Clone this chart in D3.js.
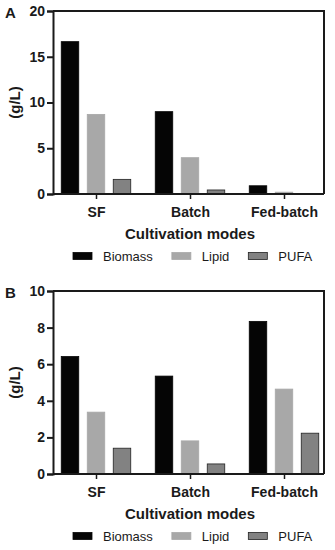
<!DOCTYPE html>
<html>
<head>
<meta charset="utf-8">
<script src="https://cdn.jsdelivr.net/npm/d3@7"></script>
<style>
  body { margin: 0; background: #fff; }
  svg { display: block; font-family: "Liberation Sans", Arial, sans-serif; }
</style>
</head>
<body>
<svg id="chart" width="335" height="550"></svg>
<script>
// data
const modes = ["SF", "Batch", "Fed-batch"];
const series = ["Biomass", "Lipid", "PUFA"];
const valuesA = {
  Biomass: [16.65, 9.0, 0.9],
  Lipid: [8.7, 3.97, 0.2],
  PUFA: [1.6, 0.44, 0.05],
};
const valuesB = {
  Biomass: [6.42, 5.35, 8.34],
  Lipid: [3.38, 1.81, 4.64],
  PUFA: [1.41, 0.55, 2.23],
};
const ticksA = [0, 5, 10, 15, 20];
const ticksB = [0, 2, 4, 6, 8, 10];

const fills = { Biomass: "#050505", Lipid: "#a8a8a8", PUFA: "#828282" };
const strokes = { Biomass: "#050505", Lipid: "#a8a8a8", PUFA: "#222" };
const ink = "#1a1a1a";

const svg = d3.select("#chart");

function drawPanel(top, bottom, letter, values, ticks) {
  const left = 53, right = 324;
  const g = svg.append("g");

  const y = d3.scaleLinear()
    .domain([0, d3.max(ticks)])
    .range([bottom, top]);

  const x = d3.scalePoint()
    .domain(modes)
    .range([96, 284]);

  const inner = d3.scaleBand()
    .domain(series)
    .range([-34.75, 34.75])
    .paddingInner(0.327);

  // bars
  const rows = [];
  series.forEach((s) => {
    modes.forEach((m, i) => rows.push({ s, m, v: values[s][i] }));
  });

  g.append("g").selectAll("rect")
    .data(rows)
    .join("rect")
    .attr("x", (d) => x(d.m) + inner(d.s))
    .attr("width", inner.bandwidth())
    .attr("y", (d) => y(d.v))
    .attr("height", (d) => bottom - y(d.v))
    .attr("fill", (d) => fills[d.s])
    .attr("stroke", (d) => strokes[d.s])
    .attr("stroke-width", 0.8);

  // frame
  g.append("path")
    .attr("d", `M${left},${top}H${right}V${bottom}`)
    .attr("fill", "none")
    .attr("stroke", ink)
    .attr("stroke-width", 2);

  // y axis
  const yAxis = g.append("g")
    .attr("transform", `translate(${left},0)`)
    .call(d3.axisLeft(y).tickValues(ticks).tickSize(6).tickPadding(2).tickFormat(d3.format("d")));
  yAxis.select(".domain").attr("stroke", ink).attr("stroke-width", 2);
  yAxis.selectAll(".tick line").attr("stroke", ink).attr("stroke-width", 2);
  yAxis.selectAll(".tick text")
    .attr("fill", ink)
    .style("font-size", "14px")
    .style("font-weight", "bold");

  // x axis
  const xAxis = g.append("g")
    .attr("transform", `translate(0,${bottom})`)
    .call(d3.axisBottom(x).tickSize(5).tickPadding(8));
  xAxis.select(".domain")
    .attr("d", `M${left},0H${right}`)
    .attr("stroke", ink).attr("stroke-width", 2);
  xAxis.selectAll(".tick line").attr("stroke", ink).attr("stroke-width", 1.5);
  xAxis.selectAll(".tick text")
    .attr("fill", ink)
    .style("font-size", "14px")
    .style("font-weight", "bold");

  // axis titles
  g.append("text")
    .attr("x", 190)
    .attr("y", bottom + 45)
    .attr("text-anchor", "middle")
    .attr("fill", ink)
    .style("font-size", "15px")
    .style("font-weight", "bold")
    .text("Cultivation modes");

  g.append("text")
    .attr("transform", `translate(15,${(top + bottom) / 2}) rotate(-90)`)
    .attr("dy", "0.35em")
    .attr("text-anchor", "middle")
    .attr("fill", ink)
    .style("font-size", "15px")
    .style("font-weight", "bold")
    .text("(g/L)");

  // panel letter
  g.append("text")
    .attr("x", 5)
    .attr("y", top + 7)
    .attr("fill", ink)
    .style("font-size", "15px")
    .style("font-weight", "bold")
    .text(letter);

  // legend
  const ly = bottom + 62;
  let lx = 73;
  series.forEach((s) => {
    g.append("rect")
      .attr("x", lx)
      .attr("y", ly - 3.5)
      .attr("width", 19)
      .attr("height", 7)
      .attr("fill", fills[s])
      .attr("stroke", strokes[s])
      .attr("stroke-width", 0.8);
    const t = g.append("text")
      .attr("x", lx + 30)
      .attr("y", ly + 4.6)
      .attr("fill", ink)
      .style("font-size", "13px")
      .text(s);
    lx += 30 + t.node().getComputedTextLength() + 19;
  });
}

drawPanel(11, 194, "A", valuesA, ticksA);
drawPanel(291, 474, "B", valuesB, ticksB);
</script>
</body>
</html>
